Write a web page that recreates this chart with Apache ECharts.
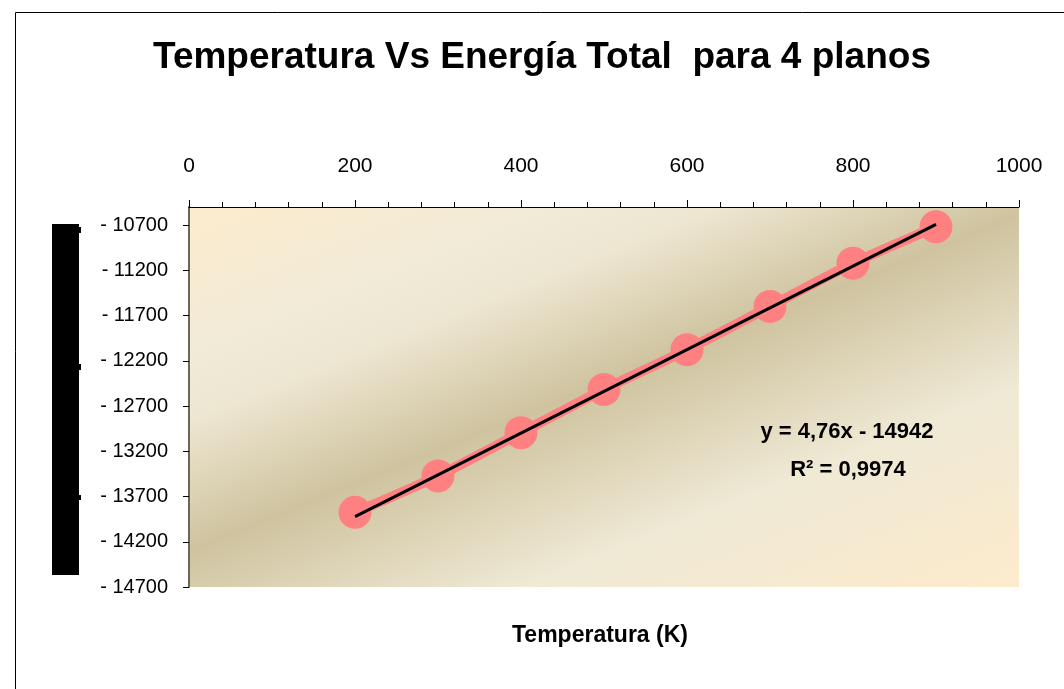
<!DOCTYPE html>
<html>
<head>
<meta charset="utf-8">
<script src="https://cdn.jsdelivr.net/npm/echarts@6/dist/echarts.min.js"></script>
<style>
html,body{margin:0;padding:0;background:#fff;}
#chart{width:1064px;height:689px;}
</style>
</head>
<body>
<div id="chart"></div>
<script>
// Data
var temperatures = [200, 300, 400, 500, 600, 700, 800, 900];
var energies = [-13875, -13472, -12994, -12517, -12077, -11600, -11122, -10719];
var trendX = [200, 900];
var trendY = [-13923, -10692];
var titleText = 'Temperatura Vs Energía Total  para 4 planos';
var xAxisTitle = 'Temperatura (K)';
var equationText = 'y = 4,76x - 14942';
var r2Text = 'R² = 0,9974';

var FONT = "'Liberation Sans', Arial, sans-serif";

var seriesData = temperatures.map(function (t, i) { return [t, energies[i]]; });
var trendData = trendX.map(function (t, i) { return [t, trendY[i]]; });

var chart = echarts.init(document.getElementById('chart'), null, {renderer: 'canvas'});

var bg = new echarts.graphic.LinearGradient(189, 207, 438, 822, [
  {offset: 0, color: '#fdebcd'},
  {offset: 0.2, color: '#f2ebd8'},
  {offset: 0.3, color: '#ede6d1'},
  {offset: 0.48, color: '#cfc39f'},
  {offset: 0.72, color: '#efe9d5'},
  {offset: 1, color: '#fdebcc'}
], true);

chart.setOption({
  animation: false,
  backgroundColor: '#ffffff',
  grid: {
    left: 189, right: 45, top: 207, bottom: 102,
    show: true, backgroundColor: bg, borderWidth: 0
  },
  xAxis: {
    type: 'value', position: 'top', min: 0, max: 1000, interval: 200,
    axisLine: {show: true, lineStyle: {color: '#000', width: 1}},
    axisTick: {show: true, length: 7, lineStyle: {color: '#000', width: 1}},
    minorTick: {show: true, splitNumber: 5, length: 5, lineStyle: {color: '#000', width: 1}},
    axisLabel: {margin: 30, fontSize: 21, color: '#000', fontFamily: FONT,
      formatter: function (v) { return String(v); }},
    splitLine: {show: false}
  },
  yAxis: {
    type: 'value', min: -14700, max: -10500, interval: 500,
    axisLine: {show: true, lineStyle: {color: '#6e6655', width: 2}},
    axisTick: {show: true, length: 6, lineStyle: {color: '#000', width: 1}},
    axisLabel: {
      margin: 21, fontSize: 20, color: '#000', fontFamily: FONT,
      showMaxLabel: false,
      formatter: function (v) { return (v < 0 ? '- ' : '') + Math.abs(v); }
    },
    splitLine: {show: false}
  },
  series: [
    {
      type: 'line', data: seriesData, smooth: 0.25,
      symbol: 'circle', symbolSize: 33,
      lineStyle: {color: '#ff8080', width: 10},
      itemStyle: {color: '#ff8080'},
      z: 2
    },
    {
      type: 'line', data: trendData, symbol: 'none',
      lineStyle: {color: '#000', width: 3},
      z: 3
    }
  ],
  graphic: [
    {type: 'rect', shape: {x: 15.5, y: 12.5, width: 1200, height: 800},
     style: {fill: 'none', stroke: '#000', lineWidth: 1}, z: 0, silent: true},
    {type: 'rect', shape: {x: 52, y: 224, width: 27, height: 351}, style: {fill: '#000'}, z: 10},
    {type: 'rect', shape: {x: 79, y: 227, width: 2, height: 6}, style: {fill: '#000'}, z: 10},
    {type: 'rect', shape: {x: 79, y: 364, width: 2, height: 6}, style: {fill: '#000'}, z: 10},
    {type: 'rect', shape: {x: 79, y: 495, width: 2, height: 5}, style: {fill: '#000'}, z: 10},
    {type: 'text', x: 542, y: 58, z: 10,
     style: {text: titleText, fill: '#000', font: 'bold 37px ' + FONT, textAlign: 'center', textVerticalAlign: 'middle'}},
    {type: 'text', x: 600, y: 636, z: 10,
     style: {text: xAxisTitle, fill: '#000', font: 'bold 23px ' + FONT, textAlign: 'center', textVerticalAlign: 'middle'}},
    {type: 'text', x: 847, y: 432, z: 10,
     style: {text: equationText, fill: '#000', font: 'bold 22px ' + FONT, textAlign: 'center', textVerticalAlign: 'middle'}},
    {type: 'text', x: 848, y: 470, z: 10,
     style: {text: r2Text, fill: '#000', font: 'bold 22px ' + FONT, textAlign: 'center', textVerticalAlign: 'middle'}}
  ]
});
</script>
</body>
</html>
